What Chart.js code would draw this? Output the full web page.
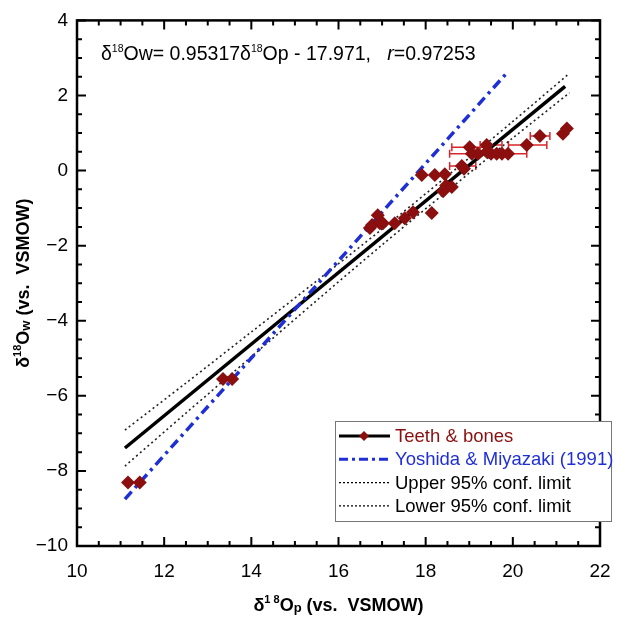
<!DOCTYPE html>
<html>
<head>
<meta charset="utf-8">
<script src="https://cdn.jsdelivr.net/npm/chart.js@4.4.1/dist/chart.umd.min.js"></script>
<style>
  html, body { margin: 0; padding: 0; background: #fff; }
  #wrap { width: 626px; height: 618px; }
</style>
</head>
<body>
<div id="wrap"><canvas id="chart" width="626" height="618"></canvas></div>
<script>
// teeth & bones measurements (d18Op, d18Ow) with horizontal error bars where drawn
const sampleX = [11.17, 11.44, 13.35, 13.56, 16.72, 16.77, 16.90, 16.95, 17.02, 17.29, 17.52, 17.71,
  17.91, 18.21, 18.44, 18.14, 18.40, 18.47, 18.60, 18.83, 18.88, 19.01, 19.06, 19.20, 19.40, 19.40,
  19.50, 19.63, 19.75, 19.89, 20.32, 20.62, 21.15, 21.24];
const sampleY = [-8.31, -8.31, -5.55, -5.55, -1.53, -1.45, -1.19, -1.40, -1.40, -1.40, -1.27, -1.11,
  -0.12, -0.12, -0.10, -1.13, -0.55, -0.40, -0.44, 0.12, 0.05, 0.62, 0.45, 0.45, 0.68, 0.50,
  0.45, 0.45, 0.45, 0.45, 0.68, 0.92, 0.98, 1.12];
const errLow = [null, null, null, null, null, null, null, null, null, null, null, null,
  null, null, null, null, null, null, null, 18.55, null, 18.60, 18.55, null, 19.25, null,
  null, null, null, 19.45, 19.90, 20.40, null, null];
const errHigh = [null, null, null, null, null, null, null, null, null, null, null, null,
  null, null, null, null, null, null, null, 19.15, null, 19.45, 19.55, null, 19.75, null,
  null, null, null, 20.32, 20.78, 20.85, null, null];

// regression line and its 95% confidence limits
const fitX = [11.1, 21.2];
const fitY = [-7.39, 2.24];
const confX = [11.1, 12.5, 14, 15.5, 17, 18.5, 20, 21.3];
const upperY = [-6.91, -5.66, -4.30, -2.94, -1.56, -0.14, 1.31, 2.59];
const lowerY = [-7.87, -6.46, -4.96, -3.46, -1.98, -0.54, 0.87, 2.07];

// Yoshida & Miyazaki (1991)
const ymX = [11.1, 19.9];
const ymY = [-8.75, 2.65];

const xTicks = [10, 12, 14, 16, 18, 20, 22];
const yTicks = [-10, -8, -6, -4, -2, 0, 2, 4];

const RED = "#8b0f0f";
const BLUE = "#1f2fd6";
const FONT = "'Liberation Sans', Arial, sans-serif";

function pts(xs, ys) {
  return xs.map((x, i) => ({ x: x, y: ys[i] }));
}

// draw a run of text pieces (superscripts, italics) left to right
function drawParts(ctx, parts, x, y, align) {
  let total = 0;
  parts.forEach((p) => {
    ctx.font = (p.style || "") + " " + p.size + "px " + FONT;
    p.w = ctx.measureText(p.t).width;
    total += p.w;
  });
  let cx = align === "center" ? x - total / 2 : x;
  parts.forEach((p) => {
    ctx.font = (p.style || "") + " " + p.size + "px " + FONT;
    ctx.fillText(p.t, cx, y + (p.dy || 0));
    cx += p.w;
  });
}

const framePlugin = {
  id: "frame",
  beforeDatasetsDraw(chart) {
    const ctx = chart.ctx;
    const xs = chart.scales.x;
    const ys = chart.scales.y;
    // error bars
    ctx.save();
    ctx.strokeStyle = "#d8262a";
    ctx.lineWidth = 1.5;
    errLow.forEach((lo, i) => {
      if (lo === null) return;
      const y = ys.getPixelForValue(sampleY[i]);
      const x1 = xs.getPixelForValue(lo);
      const x2 = xs.getPixelForValue(errHigh[i]);
      ctx.beginPath();
      ctx.moveTo(x1, y); ctx.lineTo(x2, y);
      ctx.moveTo(x1, y - 4); ctx.lineTo(x1, y + 4);
      ctx.moveTo(x2, y - 4); ctx.lineTo(x2, y + 4);
      ctx.stroke();
    });
    ctx.restore();
  },
  afterDraw(chart) {
    const ctx = chart.ctx;
    const a = chart.chartArea;
    const xs = chart.scales.x;
    const ys = chart.scales.y;
    ctx.save();
    ctx.strokeStyle = "#000";
    // inward ticks on all four sides
    ctx.lineWidth = 2;
    for (let v = 10; v <= 22.001; v += 0.5) {
      const px = xs.getPixelForValue(v);
      const len = Math.abs(v % 2) < 1e-6 ? 9 : 5;
      ctx.beginPath();
      ctx.moveTo(px, a.bottom); ctx.lineTo(px, a.bottom - len);
      ctx.moveTo(px, a.top); ctx.lineTo(px, a.top + len);
      ctx.stroke();
    }
    for (let v = -10; v <= 4.001; v += 0.5) {
      const py = ys.getPixelForValue(v);
      const len = Math.abs(v % 2) < 1e-6 ? 9 : 5;
      ctx.beginPath();
      ctx.moveTo(a.left, py); ctx.lineTo(a.left + len, py);
      ctx.moveTo(a.right, py); ctx.lineTo(a.right - len, py);
      ctx.stroke();
    }
    ctx.lineWidth = 2.5;
    ctx.strokeRect(a.left, a.top, a.right - a.left, a.bottom - a.top);

    // equation
    ctx.fillStyle = "#000";
    ctx.textBaseline = "alphabetic";
    drawParts(ctx, [
      { t: "δ", size: 19.5 }, { t: "18", size: 10.5, dy: -8 }, { t: "Ow= 0.95317δ", size: 19.5 },
      { t: "18", size: 10.5, dy: -8 }, { t: "Op - 17.971,   ", size: 19.5 },
      { t: "r", size: 19.5, style: "italic" }, { t: "=0.97253", size: 19.5 },
    ], 101, 60, "left");

    // axis titles
    drawParts(ctx, [
      { t: "δ", size: 18, style: "bold" }, { t: "1 8", size: 11, dy: -8, style: "bold" },
      { t: "O", size: 18, style: "bold" }, { t: "p", size: 13, dy: 1, style: "bold" },
      { t: " (vs.  VSMOW)", size: 18, style: "bold" },
    ], (a.left + a.right) / 2, 611, "center");
    ctx.save();
    ctx.translate(29, (a.top + a.bottom) / 2);
    ctx.rotate(-Math.PI / 2);
    drawParts(ctx, [
      { t: "δ", size: 18, style: "bold" }, { t: "18", size: 11, dy: -8, style: "bold" },
      { t: "O", size: 18, style: "bold" }, { t: "w", size: 13, dy: 1, style: "bold" },
      { t: " (vs.  VSMOW)", size: 18, style: "bold" },
    ], 0, 0, "center");
    ctx.restore();

    // legend
    const lx = 335, ly = 421, lw = 276, lh = 100;
    ctx.fillStyle = "#fff";
    ctx.fillRect(lx, ly, lw, lh);
    ctx.strokeStyle = "#777";
    ctx.lineWidth = 1;
    ctx.strokeRect(lx + 0.5, ly + 0.5, lw, lh);
    const rows = [
      { label: "Teeth & bones", color: RED, line: "#000", width: 3, dash: [], marker: true },
      { label: "Yoshida & Miyazaki (1991)", color: BLUE, line: BLUE, width: 3, dash: [9, 4, 3, 4] },
      { label: "Upper 95% conf. limit", color: "#000", line: "#000", width: 1.3, dash: [2, 2] },
      { label: "Lower 95% conf. limit", color: "#000", line: "#000", width: 1.3, dash: [2, 2] },
    ];
    ctx.textBaseline = "middle";
    rows.forEach((r, i) => {
      const y = 436 + i * 23.3;
      ctx.strokeStyle = r.line;
      ctx.lineWidth = r.width;
      ctx.setLineDash(r.dash);
      ctx.beginPath();
      ctx.moveTo(339, y); ctx.lineTo(390, y);
      ctx.stroke();
      ctx.setLineDash([]);
      if (r.marker) {
        ctx.fillStyle = RED;
        ctx.beginPath();
        ctx.moveTo(364, y - 5); ctx.lineTo(369, y); ctx.lineTo(364, y + 5); ctx.lineTo(359, y);
        ctx.closePath();
        ctx.fill();
      }
      ctx.fillStyle = r.color;
      ctx.font = "18.5px " + FONT;
      ctx.fillText(r.label, 395, y + 1);
    });
    ctx.restore();
  },
};

new Chart(document.getElementById("chart"), {
  type: "scatter",
  data: {
    datasets: [
      {
        label: "Teeth & bones",
        data: pts(sampleX, sampleY),
        pointStyle: "rectRot",
        pointRadius: 7,
        backgroundColor: RED,
        borderColor: RED,
        borderWidth: 0,
        order: 0,
      },
      {
        label: "fit",
        data: pts(fitX, fitY),
        showLine: true,
        borderColor: "#000",
        borderWidth: 3.5,
        pointRadius: 0,
        order: 2,
      },
      {
        label: "Yoshida & Miyazaki (1991)",
        data: pts(ymX, ymY),
        showLine: true,
        borderColor: BLUE,
        borderWidth: 3.5,
        borderDash: [10, 5, 3, 5],
        pointRadius: 0,
        order: 1,
      },
      {
        label: "Upper 95% conf. limit",
        data: pts(confX, upperY),
        showLine: true,
        borderColor: "#222",
        borderWidth: 1.6,
        borderDash: [2, 3],
        tension: 0.3,
        pointRadius: 0,
        order: 3,
      },
      {
        label: "Lower 95% conf. limit",
        data: pts(confX, lowerY),
        showLine: true,
        borderColor: "#222",
        borderWidth: 1.6,
        borderDash: [2, 3],
        tension: 0.3,
        pointRadius: 0,
        order: 3,
      },
    ],
  },
  options: {
    responsive: false,
    animation: false,
    layout: { padding: { top: 20, right: 26, left: 0, bottom: 0 } },
    plugins: { legend: { display: false }, tooltip: { enabled: false } },
    scales: {
      x: {
        type: "linear",
        min: 10,
        max: 22,
        afterFit: (s) => { s.height = 72; },
        afterBuildTicks: (s) => { s.ticks = xTicks.map((v) => ({ value: v })); },
        grid: { display: false, drawTicks: false },
        border: { display: false },
        ticks: { color: "#000", padding: 14, font: { family: FONT, size: 19 } },
      },
      y: {
        type: "linear",
        min: -10,
        max: 4,
        afterFit: (s) => { s.width = 77; },
        afterBuildTicks: (s) => { s.ticks = yTicks.map((v) => ({ value: v })); },
        grid: { display: false, drawTicks: false },
        border: { display: false },
        ticks: {
          color: "#000",
          padding: 9,
          font: { family: FONT, size: 19 },
          callback: (v) => String(v).replace("-", "\u2212"),
        },
      },
    },
  },
  plugins: [framePlugin],
});
</script>
</body>
</html>
